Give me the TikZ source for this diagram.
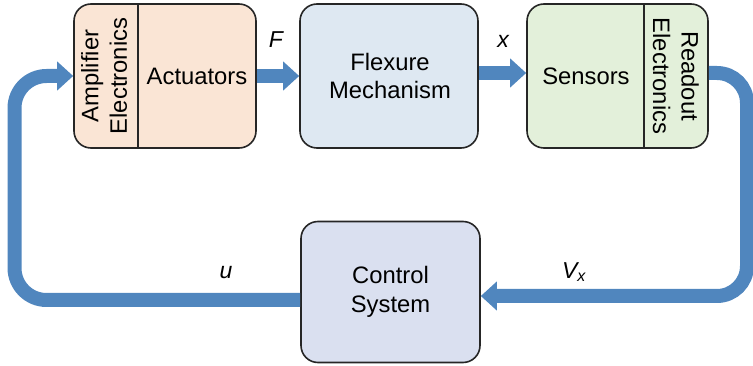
\documentclass[tikz,border=0pt]{standalone}
\usepackage{fontspec}
\setmainfont{Liberation Sans}
\usetikzlibrary{arrows.meta}
\definecolor{flow}{RGB}{80,134,190}
\definecolor{peach}{RGB}{250,229,213}
\definecolor{paleblue}{RGB}{222,232,242}
\definecolor{palegreen}{RGB}{227,240,218}
\definecolor{lavender}{RGB}{218,224,240}
\begin{document}
\begin{tikzpicture}[x=1pt,y=-1pt,
  every node/.style={font=\fontsize{23.8}{28.5}\selectfont},
  blockbox/.style={draw=black!85, line width=1.6pt, rounded corners=17pt, inner sep=0pt},
  flowline/.style={draw=flow, line width=14pt},
  flowarrow/.style={flowline, -{Triangle[length=16pt,width=28pt]}},
  lbl/.style={font=\fontsize{23}{26}\selectfont\itshape}]
\useasboundingbox (0,0) rectangle (753,366);

% boxes
\node[blockbox, fill=peach, minimum width=182pt, minimum height=144pt] (act) at (165,76) {};
\node[blockbox, fill=paleblue, minimum width=178pt, minimum height=144pt] (flex) at (389,76) {};
\node[blockbox, fill=palegreen, minimum width=181pt, minimum height=144pt] (sens) at (617.5,76) {};
\node[blockbox, fill=lavender, minimum width=179pt, minimum height=141pt] (ctrl) at (390.5,292) {};

% dividers
\coordinate (d1t) at (138,4);
\coordinate (d1b) at (138,148);
\draw[black!85, line width=1.6pt] (d1t |- act.north) -- (d1b |- act.south);
\coordinate (d2t) at (644,4);
\coordinate (d2b) at (644,148);
\draw[black!85, line width=1.6pt] (d2t |- sens.north) -- (d2b |- sens.south);

% texts
\node (amp) at (104,76) [rotate=90, align=center] {Amplifier\\Electronics};
\node (actt) at (197,76) {Actuators};
\node (flext) at (390,76) [align=center] {Flexure\\Mechanism};
\node (senst) at (586,76) {Sensors};
\node (read) at (676,76) [rotate=-90, align=center] {Readout\\Electronics};
\node (ctrlt) at (390.5,292) [align=center] {Control\\System};

% forward arrows
\coordinate (aE) at (act.east |- 0,76);
\coordinate (fW) at (flex.west |- 0,76);
\coordinate (fE) at (flex.east |- 0,73);
\coordinate (sW) at (sens.west |- 0,73);
\draw[flowarrow] (aE) -- (fW);
\draw[flowarrow] (fE) -- (sW);

% feedback from sensors to control
\coordinate (sE) at (sens.east |- 0,73);
\coordinate (cE) at (ctrl.east |- 0,296);
\draw[flowarrow, rounded corners=30pt] (sE) -- (747,73) -- (747,296) -- (cE);

% control to actuators
\coordinate (cW) at (ctrl.west |- 0,300);
\coordinate (aW) at (act.west |- 0,76);
\draw[flowarrow, rounded corners=32pt] (cW) -- (14.5,300) -- (14.5,76) -- (aW);

% labels
\node[lbl] (F) at (276,40) {F};
\node[lbl] (xl) at (503,41) {x};
\node[lbl] (u) at (226,273) {u};
\node[lbl] (V) at (574,272) {V\textsubscript{\fontsize{16}{18}\selectfont x}};
\end{tikzpicture}
\end{document}
